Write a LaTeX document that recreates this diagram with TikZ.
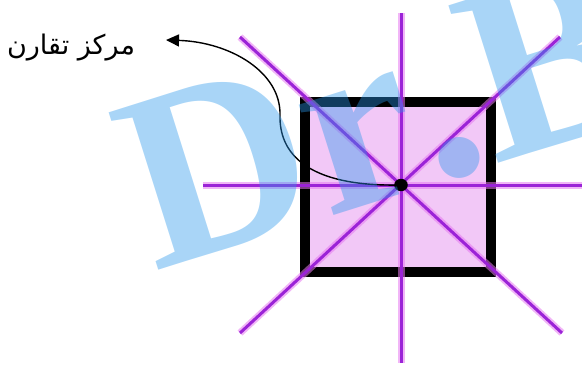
\documentclass[tikz,border=0pt]{standalone}
\usepackage{fontspec}
\setmainfont{Liberation Serif}[Kerning=Off]
\newfontfamily\arabicfont[Script=Arabic]{DejaVu Sans}
\TeXXeTstate=1
\usetikzlibrary{arrows.meta}
\definecolor{sqfill}{RGB}{242,200,247}
\definecolor{axiscore}{RGB}{155,35,215}
\definecolor{axisglow}{RGB}{230,120,240}
\definecolor{wmblue}{RGB}{40,150,235}
\tikzset{
  axisglowline/.style={line width=7pt, draw=axisglow, opacity=0.55, line cap=butt},
  axisline/.style={line width=3pt, draw=axiscore, line cap=butt},
  border/.style={line width=10pt, draw=black, fill=sqfill},
  label/.style={font=\arabicfont\fontsize{27}{30}\selectfont, inner sep=0pt},
  pointer/.style={line width=1.4pt, -{Triangle[length=13pt,width=12pt]}},
  watermark/.style={font=\bfseries\fontsize{252}{252}\selectfont, text=wmblue, opacity=0.4, inner sep=0pt, anchor=base west, rotate=17.5}
}
\begin{document}
\begin{tikzpicture}[x=1pt,y=-1pt]
\useasboundingbox (0,0) rectangle (582,367);
\clip (0,0) rectangle (582,367);
% square
\draw[border] (305,102) rectangle (491,272);
% axes
\coordinate (c) at (401,185);
\coordinate (vt) at (401,13);
\coordinate (vb) at (401,363);
\coordinate (hl) at (203,185);
\coordinate (hr) at (582,185);
\coordinate (d1a) at (240,37);
\coordinate (d1b) at (562,333);
\coordinate (d2a) at (560,37);
\coordinate (d2b) at (240,333);
\foreach \a/\b in {vt/vb, hl/hr, d1a/d1b, d2a/d2b} {
  \draw[axisglowline] (\a) -- (\b);
}
\foreach \a/\b in {vt/vb, hl/hr, d1a/d1b, d2a/d2b} {
  \draw[axisline] (\a) -- (\b);
}
% label
\node[label] (lbl) at (71,48) {\beginR مركز تقارن\endR};
\coordinate (tip) at (166,40);
\coordinate (mid) at (280,115);
\draw[pointer] (c) .. controls (305,187) and (279,152) .. (mid) .. controls (281,72) and (230,42) .. (tip);
\fill[black] (c) ellipse (6.8 and 6.2);
% watermark
\node[watermark] (wm) at (154,272) {Dr.B};
\end{tikzpicture}
\end{document}
